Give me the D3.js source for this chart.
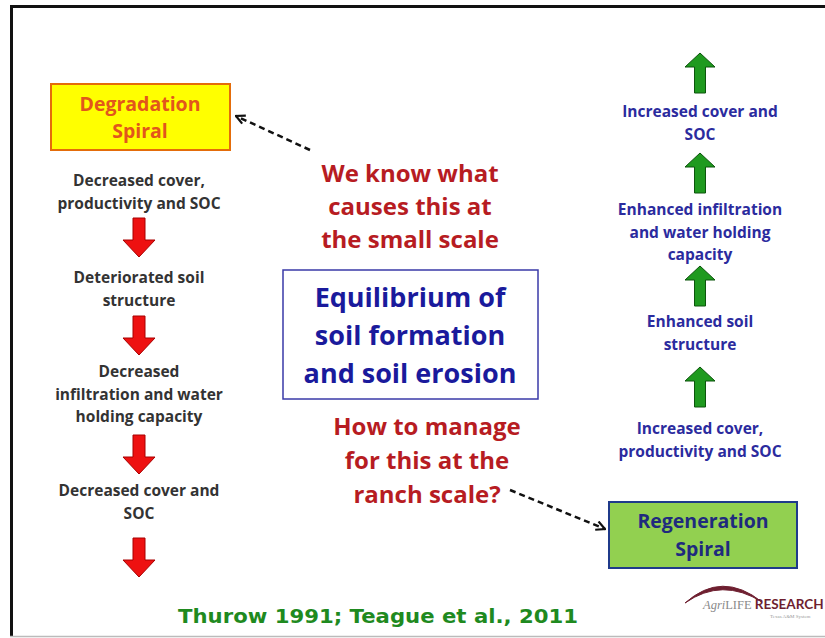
<!DOCTYPE html>
<html>
<head>
<meta charset="utf-8">
<script src="https://cdn.jsdelivr.net/npm/d3@7"></script>
<style>
  body { margin: 0; background: #fff; }
  svg { display: block; }
</style>
</head>
<body>
<div id="chart"></div>
<script>
// ---- content ----
var degradeTitle = ["Degradation", "Spiral"];
var regenTitle = ["Regeneration", "Spiral"];
var degradeSteps = [
  ["Decreased cover,", "productivity and SOC"],
  ["Deteriorated soil", "structure"],
  ["Decreased", "infiltration and water", "holding capacity"],
  ["Decreased cover and", "SOC"]
];
var regenSteps = [
  ["Increased cover and", "SOC"],
  ["Enhanced infiltration", "and water holding", "capacity"],
  ["Enhanced soil", "structure"],
  ["Increased cover,", "productivity and SOC"]
];
var knowText = ["We know what", "causes this at", "the small scale"];
var centreText = ["Equilibrium of", "soil formation", "and soil erosion"];
var manageText = ["How to manage", "for this at the", "ranch scale?"];
var citation = "Thurow 1991; Teague et al., 2011";

// ---- layout (px) ----
var width = 825, height = 638;
var leftX = 139, rightX = 700;
var degradeBase = [186, 283, 377, 496];
var regenBase = [117, 215, 327, 434];
var redArrowTop = [218, 316, 435, 538];
var greenArrowTip = [53, 153, 266, 367];
var font = "'Open Sans', Lato, sans-serif";

var svg = d3.select("#chart").append("svg")
  .attr("width", width)
  .attr("height", height);

svg.append("rect").attr("width", width).attr("height", height).attr("fill", "#fff");

// frame
svg.append("line").attr("x1", 10).attr("x2", width).attr("y1", 6.5).attr("y2", 6.5)
  .attr("stroke", "#111").attr("stroke-width", 3);
svg.append("line").attr("x1", 11.5).attr("x2", 11.5).attr("y1", 5).attr("y2", 637)
  .attr("stroke", "#111").attr("stroke-width", 3);
svg.append("line").attr("x1", 10).attr("x2", width).attr("y1", 636.5).attr("y2", 636.5)
  .attr("stroke", "#bbb").attr("stroke-width", 1.5);

function lines(g, arr, x, y0, gap, opts) {
  g.selectAll(null).data(arr).enter().append("text")
    .attr("x", x)
    .attr("y", function(d, i) { return y0 + i * gap; })
    .attr("text-anchor", "middle")
    .attr("font-family", opts.family || font)
    .attr("font-weight", "bold")
    .attr("font-size", opts.size)
    .attr("fill", opts.color)
    .text(function(d) { return d; });
}

// block arrows
var downArrow = function(cx, top, len, sw, hw, hh) {
  var p = d3.path();
  p.moveTo(cx - sw / 2, top);
  p.lineTo(cx + sw / 2, top);
  p.lineTo(cx + sw / 2, top + len - hh);
  p.lineTo(cx + hw / 2, top + len - hh);
  p.lineTo(cx, top + len);
  p.lineTo(cx - hw / 2, top + len - hh);
  p.lineTo(cx - sw / 2, top + len - hh);
  p.closePath();
  return p.toString();
};
var upArrow = function(cx, tip, len, sw, hw, hh) {
  var p = d3.path();
  p.moveTo(cx, tip);
  p.lineTo(cx + hw / 2, tip + hh);
  p.lineTo(cx + sw / 2, tip + hh);
  p.lineTo(cx + sw / 2, tip + len);
  p.lineTo(cx - sw / 2, tip + len);
  p.lineTo(cx - sw / 2, tip + hh);
  p.lineTo(cx - hw / 2, tip + hh);
  p.closePath();
  return p.toString();
};

svg.selectAll(".red-arrow").data(redArrowTop).enter().append("path")
  .attr("class", "red-arrow")
  .attr("d", function(d) { return downArrow(leftX, d, 39, 12, 32, 17); })
  .attr("fill", "#ee1111")
  .attr("stroke", "#a80000")
  .attr("stroke-width", 1);

svg.selectAll(".green-arrow").data(greenArrowTip).enter().append("path")
  .attr("class", "green-arrow")
  .attr("d", function(d) { return upArrow(rightX, d, 40, 11, 30, 14); })
  .attr("fill", "#1f9a1f")
  .attr("stroke", "#0c550c")
  .attr("stroke-width", 1);

// step labels
degradeSteps.forEach(function(s, i) {
  lines(svg, s, leftX, degradeBase[i], 22.5, {size: 15.5, color: "#333"});
});
regenSteps.forEach(function(s, i) {
  lines(svg, s, rightX, regenBase[i], 22.5, {size: 15.5, color: "#2b2b9e"});
});

// spiral boxes
svg.append("rect").attr("x", 51).attr("y", 84).attr("width", 179).attr("height", 66)
  .attr("fill", "#ffff00").attr("stroke", "#e46c0a").attr("stroke-width", 2);
lines(svg, degradeTitle, 140, 111, 27, {size: 19.5, color: "#e2561c"});

svg.append("rect").attr("x", 609).attr("y", 502).attr("width", 188).attr("height", 66)
  .attr("fill", "#92d050").attr("stroke", "#1f3a8a").attr("stroke-width", 2);
lines(svg, regenTitle, 703, 528, 28, {size: 19.5, color: "#1f2a7e"});

// centre
lines(svg, knowText, 410, 182, 33, {size: 24, color: "#b71c22"});
svg.append("rect").attr("x", 283).attr("y", 270).attr("width", 255).attr("height", 129)
  .attr("fill", "none").attr("stroke", "#3a3aa8").attr("stroke-width", 1.5);
lines(svg, centreText, 410, 307, 38, {size: 27, color: "#1a1a9c"});
lines(svg, manageText, 427, 435, 34, {size: 24, color: "#b71c22"});

// dashed pointers
svg.append("defs").append("marker")
  .attr("id", "head")
  .attr("viewBox", "0 0 10 10")
  .attr("refX", 9).attr("refY", 5)
  .attr("markerWidth", 11).attr("markerHeight", 11)
  .attr("markerUnits", "userSpaceOnUse")
  .attr("orient", "auto")
  .append("path")
  .attr("d", "M1,1 L9,5 L1,9")
  .attr("fill", "none")
  .attr("stroke", "#111")
  .attr("stroke-width", 2);

var pointers = [[310, 150, 236, 116], [510, 490, 605, 529]];
svg.selectAll(".pointer").data(pointers).enter().append("line")
  .attr("class", "pointer")
  .attr("x1", function(d) { return d[0]; })
  .attr("y1", function(d) { return d[1]; })
  .attr("x2", function(d) { return d[2]; })
  .attr("y2", function(d) { return d[3]; })
  .attr("stroke", "#111")
  .attr("stroke-width", 2.5)
  .attr("stroke-dasharray", "6,4")
  .attr("marker-end", "url(#head)");

// citation
svg.append("text")
  .attr("x", 178).attr("y", 623)
  .attr("font-family", "'Comic Sans MS', 'DejaVu Sans', sans-serif")
  .attr("font-weight", "bold")
  .attr("font-size", 20)
  .attr("fill", "#1f8a1f")
  .attr("textLength", 400)
  .attr("lengthAdjust", "spacingAndGlyphs")
  .text(citation);

// logo
var logo = svg.append("g");
logo.append("path")
  .attr("d", "M685,603 Q722,570 762,602 Q722,577 685,603 Z")
  .attr("fill", "#6e1f30")
  .attr("stroke", "#6e1f30")
  .attr("stroke-width", 1);
var lt = logo.append("text").attr("x", 703).attr("y", 609)
  .attr("font-family", "'Liberation Serif', serif")
  .attr("font-size", 12.5);
lt.append("tspan").attr("fill", "#8a8a8a").attr("font-style", "italic").text("Agri");
lt.append("tspan").attr("fill", "#8a8a8a").text("LIFE ");
lt.append("tspan").attr("fill", "#6e1f30").attr("font-weight", "bold")
  .attr("font-family", "Lato, sans-serif").attr("font-size", 13.5).text("RESEARCH");
logo.append("text").attr("x", 770).attr("y", 618)
  .attr("font-family", "'Liberation Serif', serif")
  .attr("font-size", 5)
  .attr("fill", "#999")
  .text("Texas A&M System");
</script>
</body>
</html>
